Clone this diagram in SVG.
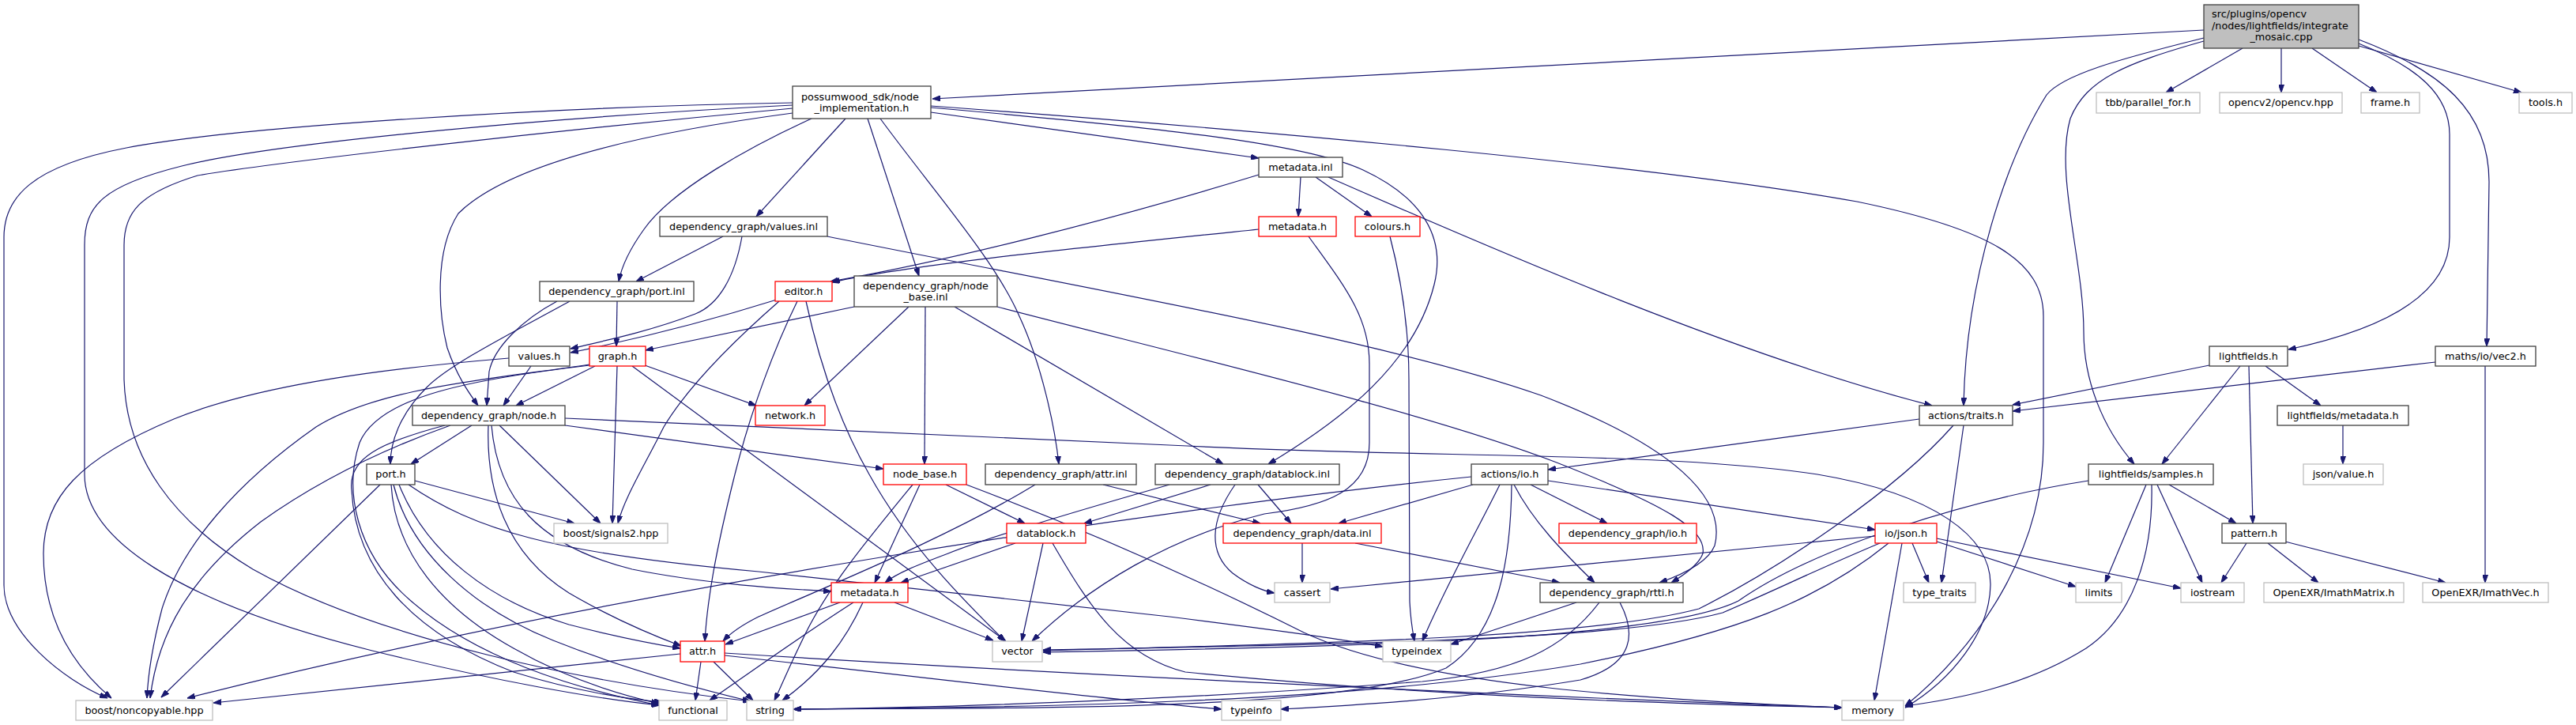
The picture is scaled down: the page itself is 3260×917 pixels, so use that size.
<svg xmlns="http://www.w3.org/2000/svg" width="3260" height="917" viewBox="0 0 3260 917">
<style>
.n rect{fill:#fff;stroke:#404040;stroke-width:1.3}
.n.r rect{stroke:#ff0000}
.n.g rect{stroke:#bfbfbf}
.n.m rect{fill:#bfbfbf}
text{font-family:"DejaVu Sans","Liberation Sans",sans-serif;font-size:12.8px;fill:#000;text-anchor:middle}
text.s{text-anchor:start}
#edges path{fill:none;stroke:#191970;stroke-width:1.2;marker-end:url(#a)}
</style>
<defs>
<marker id="a" viewBox="0 0 10 7" refX="10" refY="3.5" markerWidth="10" markerHeight="7" markerUnits="userSpaceOnUse" orient="auto"><path d="M0,0L10,3.5L0,7z" fill="#191970" stroke="#191970" stroke-width="1"/></marker>
</defs>
<rect width="3260" height="917" fill="#fff"/>
<g id="edges">
<path d="M2789,38 L1180,125"/>
<path d="M2838,61 L2741,117"/>
<path d="M2887,61 L2887,117"/>
<path d="M2926,61 L3008,117"/>
<path d="M2985,58 L3191,117"/>
<path d="M2985,55 C3060,85 3100,120 3100,170 L3100,300 C3100,380 3000,420 2896,442"/>
<path d="M2985,50 C3090,90 3150,140 3150,230 L3147,438"/>
<path d="M2789,48 C2680,75 2610,95 2590,120 C2540,200 2488,350 2485,513"/>
<path d="M2789,52 C2690,80 2640,100 2620,150 C2600,220 2637,330 2637,420 C2637,480 2660,540 2701,587"/>
<path d="M1003,130 C700,135 300,160 160,187 C40,210 5,250 5,300 L5,740 C5,800 80,860 136,883"/>
<path d="M1003,133 C700,148 350,180 230,210 C130,235 107,260 107,310 L107,600 C107,680 220,760 471,823 C620,860 760,885 835,892"/>
<path d="M1003,137 C700,165 350,205 250,222 C175,245 157,270 157,310 L157,480 C160,580 220,660 320,720 C480,810 750,865 950,887"/>
<path d="M1003,143 C800,170 640,210 580,270 C548,320 556,400 566,440 C578,475 592,495 605,513"/>
<path d="M1027,150 C950,185 850,240 815,290 C797,315 787,335 783,356"/>
<path d="M1070,150 L957,274"/>
<path d="M1098,150 L1163,349"/>
<path d="M1114,150 C1180,240 1260,330 1290,400 C1318,460 1335,540 1340,587"/>
<path d="M1178,142 L1593,200"/>
<path d="M1178,134 C1600,165 2100,210 2350,255 C2520,290 2586,330 2586,400 L2586,560 C2586,700 2500,820 2411,893"/>
<path d="M1178,136 C1450,160 1650,180 1725,215 C1800,250 1830,300 1815,360 C1790,460 1700,530 1605,587"/>
<path d="M1593,221 C1400,280 1200,330 1051,356"/>
<path d="M1646,224 L1643,274"/>
<path d="M1665,224 L1736,274"/>
<path d="M1681,224 C1900,320 2200,450 2445,513"/>
<path d="M1593,290 C1350,315 1150,335 1053,357"/>
<path d="M1656,299 C1700,360 1733,400 1733,460 L1733,560 C1733,620 1680,640 1600,650 C1480,680 1380,740 1306,811"/>
<path d="M1759,299 C1775,360 1783,420 1783,480 L1784,760 C1785,785 1788,800 1790,811"/>
<path d="M915,299 L805,356"/>
<path d="M939,299 C930,350 910,385 880,397 C820,420 760,432 722,441"/>
<path d="M1047,299 C1400,370 1750,430 1950,500 C2120,565 2185,630 2170,690 C2160,715 2120,730 2100,737"/>
<path d="M781,381 L780,438"/>
<path d="M705,381 C660,405 625,440 619,470 L616,513"/>
<path d="M721,381 C650,420 570,460 540,490 C505,525 494,560 494,587"/>
<path d="M983,379 C900,405 800,430 722,446"/>
<path d="M986,381 C930,430 870,490 840,540 C815,590 790,630 782,662"/>
<path d="M1009,381 C980,440 950,520 930,600 C905,700 895,760 892,811"/>
<path d="M1020,381 C1035,450 1060,530 1100,600 C1150,690 1220,760 1272,811"/>
<path d="M1081,388 L817,443"/>
<path d="M1150,388 L1018,513"/>
<path d="M1171,388 L1170,587"/>
<path d="M1208,388 L1548,587"/>
<path d="M1262,388 C1500,450 1800,520 1970,585 C2110,640 2160,670 2155,700 C2150,715 2130,728 2115,737"/>
<path d="M672,463 L637,513"/>
<path d="M644,453 C500,465 330,485 220,530 C100,580 55,630 55,700 C55,780 90,840 141,883"/>
<path d="M753,463 L653,513"/>
<path d="M816,462 L957,513"/>
<path d="M781,463 L775,662"/>
<path d="M800,463 L1273,811"/>
<path d="M746,461 C620,480 480,490 400,540 C300,610 230,690 205,770 C192,820 187,860 186,883"/>
<path d="M746,462 C600,480 480,500 455,560 C435,620 450,700 520,760 C600,830 720,870 834,892"/>
<path d="M597,538 L520,587"/>
<path d="M632,538 L760,662"/>
<path d="M715,538 L1118,593"/>
<path d="M715,529 L1480,563 C1800,580 2100,570 2300,600 C2450,625 2520,680 2519,740 C2518,800 2470,860 2411,895"/>
<path d="M570,538 C480,570 400,610 330,660 C240,730 200,800 190,883"/>
<path d="M563,538 C480,560 440,580 445,620 C450,720 520,800 650,850 C730,875 800,885 838,888"/>
<path d="M618,538 C615,620 640,700 720,750 C780,785 830,805 862,817"/>
<path d="M622,538 C630,630 680,690 800,720 C900,740 1000,745 1052,748"/>
<path d="M525,608 L727,662"/>
<path d="M481,613 L204,882"/>
<path d="M495,613 C500,700 560,770 650,820 C720,860 790,880 834,890"/>
<path d="M498,613 C520,700 600,770 700,810 C800,850 900,875 950,887"/>
<path d="M505,613 C540,700 620,760 720,790 C790,808 830,815 861,820"/>
<path d="M517,613 C600,670 700,700 960,723 L1480,780 C1600,795 1700,808 1750,818"/>
<path d="M1155,613 C1100,680 1050,740 1020,800 C1000,840 990,865 980,886"/>
<path d="M1164,613 L1107,737"/>
<path d="M1197,613 L1297,662"/>
<path d="M1223,613 C1400,680 1550,750 1650,800 C1800,870 2100,885 2331,895"/>
<path d="M1310,613 C1200,680 1050,740 960,780 C940,790 925,800 915,811"/>
<path d="M1396,613 L1595,662"/>
<path d="M1480,613 C1350,650 1250,680 1200,700 C1160,715 1135,725 1120,737"/>
<path d="M1532,613 L1372,662"/>
<path d="M1592,613 L1634,662"/>
<path d="M1563,613 C1530,660 1530,700 1560,725 C1580,740 1600,748 1613,750"/>
<path d="M1862,603 C1500,640 800,740 237,883"/>
<path d="M1864,613 L1694,662"/>
<path d="M1898,613 C1870,670 1830,740 1800,811"/>
<path d="M1913,613 C1912,700 1900,800 1830,845 C1700,900 1300,895 1004,897"/>
<path d="M1916,613 C1940,660 1980,700 2018,737"/>
<path d="M1937,613 L2034,662"/>
<path d="M1959,608 L2373,670"/>
<path d="M2429,530 L1959,594"/>
<path d="M2485,538 L2457,737"/>
<path d="M2472,538 C2400,620 2250,720 2150,770 C2000,810 1600,815 1320,823"/>
<path d="M2796,462 L2547,512"/>
<path d="M2835,463 L2736,587"/>
<path d="M2846,463 L2851,662"/>
<path d="M2867,463 L2937,513"/>
<path d="M3082,458 L2547,520"/>
<path d="M3145,463 L3145,737"/>
<path d="M2965,538 L2965,587"/>
<path d="M2643,608 C2500,630 2300,690 2200,760 C2100,810 1700,818 1320,825"/>
<path d="M2716,613 L2664,737"/>
<path d="M2730,613 L2787,737"/>
<path d="M2745,613 L2830,662"/>
<path d="M2723,613 C2725,700 2700,780 2640,820 C2560,870 2470,885 2411,893"/>
<path d="M2843,687 L2811,737"/>
<path d="M2870,687 L2934,737"/>
<path d="M2892,685 L3095,737"/>
<path d="M2373,678 L1684,745"/>
<path d="M2379,687 C2300,720 2250,745 2180,775 C2050,810 1700,815 1320,822"/>
<path d="M2390,687 C2300,760 2200,800 2000,840 C1700,890 1300,895 1004,897"/>
<path d="M2407,687 L2372,886"/>
<path d="M2420,687 L2441,737"/>
<path d="M2451,685 L2627,742"/>
<path d="M2451,681 L2760,744"/>
<path d="M1995,762 L1836,815"/>
<path d="M2024,762 C1980,820 1920,850 1800,862 C1500,885 1200,895 1004,897"/>
<path d="M2050,762 C2070,800 2070,840 2000,860 C1850,885 1700,893 1621,897"/>
<path d="M1648,687 L1648,737"/>
<path d="M1715,687 L1974,737"/>
<path d="M1285,687 L1140,737"/>
<path d="M1320,687 L1293,811"/>
<path d="M1332,687 C1380,770 1420,830 1500,850 C1800,880 2100,890 2331,895"/>
<path d="M1063,762 L918,815"/>
<path d="M1080,762 C1020,800 950,850 898,886"/>
<path d="M1092,762 C1070,810 1040,850 990,886"/>
<path d="M1132,762 L1257,810"/>
<path d="M887,837 L880,886"/>
<path d="M903,837 L953,886"/>
<path d="M861,827 L270,889"/>
<path d="M917,826 C1300,850 1900,880 2331,895"/>
<path d="M917,829 C1200,860 1400,885 1546,897"/>
</g>
<g id="node-main" class="n m"><rect x="2789" y="6" width="196" height="55"/><text class="s" x="2799" y="22">src/plugins/opencv</text><text class="s" x="2799" y="36.5">/nodes/lightfields/integrate</text><text x="2887" y="51">_mosaic.cpp</text></g>
<g id="node-possumwood" class="n"><rect x="1003" y="109" width="175" height="41"/><text class="s" x="1014" y="126.5">possumwood_sdk/node</text><text x="1090.5" y="141">_implementation.h</text></g>
<g id="node-tbb" class="n g"><rect x="2653" y="117" width="131" height="26"/><text x="2718.5" y="134.3">tbb/parallel_for.h</text></g>
<g id="node-opencv" class="n g"><rect x="2809" y="117" width="155" height="26"/><text x="2886.5" y="134.3">opencv2/opencv.hpp</text></g>
<g id="node-frame" class="n g"><rect x="2988" y="117" width="74" height="26"/><text x="3025" y="134.3">frame.h</text></g>
<g id="node-tools" class="n g"><rect x="3188" y="117" width="67" height="26"/><text x="3221.5" y="134.3">tools.h</text></g>
<g id="node-metadata-inl" class="n"><rect x="1593" y="199" width="106" height="25"/><text x="1646" y="215.8">metadata.inl</text></g>
<g id="node-values-inl" class="n"><rect x="835" y="274" width="212" height="25"/><text x="941" y="290.8">dependency_graph/values.inl</text></g>
<g id="node-metadata-h-upper" class="n r"><rect x="1593" y="274" width="98" height="25"/><text x="1642" y="290.8">metadata.h</text></g>
<g id="node-colours" class="n r"><rect x="1715" y="274" width="82" height="25"/><text x="1756" y="290.8">colours.h</text></g>
<g id="node-port-inl" class="n"><rect x="683" y="356" width="195" height="25"/><text x="780.5" y="372.8">dependency_graph/port.inl</text></g>
<g id="node-editor" class="n r"><rect x="981" y="356" width="72" height="25"/><text x="1017" y="372.8">editor.h</text></g>
<g id="node-node-base-inl" class="n"><rect x="1081" y="349" width="181" height="39"/><text class="s" x="1092" y="365.5">dependency_graph/node</text><text x="1171.5" y="380">_base.inl</text></g>
<g id="node-values-h" class="n"><rect x="644" y="438" width="77" height="25"/><text x="682.5" y="454.8">values.h</text></g>
<g id="node-graph-h" class="n r"><rect x="746" y="438" width="71" height="25"/><text x="781.5" y="454.8">graph.h</text></g>
<g id="node-lightfields-h" class="n"><rect x="2796" y="438" width="99" height="25"/><text x="2845.5" y="454.8">lightfields.h</text></g>
<g id="node-vec2" class="n"><rect x="3082" y="438" width="127" height="25"/><text x="3145.5" y="454.8">maths/io/vec2.h</text></g>
<g id="node-node-h" class="n"><rect x="522" y="513" width="193" height="25"/><text x="618.5" y="529.8">dependency_graph/node.h</text></g>
<g id="node-network" class="n r"><rect x="956" y="513" width="88" height="25"/><text x="1000" y="529.8">network.h</text></g>
<g id="node-traits" class="n"><rect x="2429" y="513" width="118" height="25"/><text x="2488" y="529.8">actions/traits.h</text></g>
<g id="node-lf-metadata" class="n"><rect x="2882" y="513" width="166" height="25"/><text x="2965" y="529.8">lightfields/metadata.h</text></g>
<g id="node-port-h" class="n"><rect x="464" y="587" width="61" height="26"/><text x="494.5" y="604.3">port.h</text></g>
<g id="node-node-base-h" class="n r"><rect x="1118" y="587" width="105" height="26"/><text x="1170.5" y="604.3">node_base.h</text></g>
<g id="node-attr-inl" class="n"><rect x="1247" y="587" width="191" height="26"/><text x="1342.5" y="604.3">dependency_graph/attr.inl</text></g>
<g id="node-datablock-inl" class="n"><rect x="1462" y="587" width="233" height="26"/><text x="1578.5" y="604.3">dependency_graph/datablock.inl</text></g>
<g id="node-actions-io" class="n"><rect x="1862" y="587" width="97" height="26"/><text x="1910.5" y="604.3">actions/io.h</text></g>
<g id="node-samples" class="n"><rect x="2643" y="587" width="158" height="26"/><text x="2722" y="604.3">lightfields/samples.h</text></g>
<g id="node-json-value" class="n g"><rect x="2915" y="587" width="101" height="26"/><text x="2965.5" y="604.3">json/value.h</text></g>
<g id="node-signals2" class="n g"><rect x="701" y="662" width="144" height="25"/><text x="773" y="678.8">boost/signals2.hpp</text></g>
<g id="node-datablock-h" class="n r"><rect x="1274" y="662" width="100" height="25"/><text x="1324" y="678.8">datablock.h</text></g>
<g id="node-data-inl" class="n r"><rect x="1548" y="662" width="200" height="25"/><text x="1648" y="678.8">dependency_graph/data.inl</text></g>
<g id="node-dg-io" class="n r"><rect x="1973" y="662" width="174" height="25"/><text x="2060" y="678.8">dependency_graph/io.h</text></g>
<g id="node-io-json" class="n r"><rect x="2373" y="662" width="78" height="25"/><text x="2412" y="678.8">io/json.h</text></g>
<g id="node-pattern" class="n"><rect x="2812" y="662" width="81" height="25"/><text x="2852.5" y="678.8">pattern.h</text></g>
<g id="node-metadata-h-lower" class="n r"><rect x="1052" y="737" width="97" height="25"/><text x="1100.5" y="753.8">metadata.h</text></g>
<g id="node-cassert" class="n g"><rect x="1613" y="737" width="70" height="25"/><text x="1648" y="753.8">cassert</text></g>
<g id="node-rtti" class="n"><rect x="1949" y="737" width="181" height="25"/><text x="2039.5" y="753.8">dependency_graph/rtti.h</text></g>
<g id="node-type-traits" class="n g"><rect x="2409" y="737" width="91" height="25"/><text x="2454.5" y="753.8">type_traits</text></g>
<g id="node-limits" class="n g"><rect x="2627" y="737" width="58" height="25"/><text x="2656" y="753.8">limits</text></g>
<g id="node-iostream" class="n g"><rect x="2760" y="737" width="80" height="25"/><text x="2800" y="753.8">iostream</text></g>
<g id="node-imathmatrix" class="n g"><rect x="2865" y="737" width="177" height="25"/><text x="2953.5" y="753.8">OpenEXR/ImathMatrix.h</text></g>
<g id="node-imathvec" class="n g"><rect x="3066" y="737" width="159" height="25"/><text x="3145.5" y="753.8">OpenEXR/ImathVec.h</text></g>
<g id="node-attr-h" class="n r"><rect x="861" y="811" width="56" height="26"/><text x="889" y="828.3">attr.h</text></g>
<g id="node-vector" class="n g"><rect x="1256" y="811" width="63" height="26"/><text x="1287.5" y="828.3">vector</text></g>
<g id="node-typeindex" class="n g"><rect x="1750" y="811" width="86" height="26"/><text x="1793" y="828.3">typeindex</text></g>
<g id="node-noncopyable" class="n g"><rect x="96" y="886" width="173" height="25"/><text x="182.5" y="902.8">boost/noncopyable.hpp</text></g>
<g id="node-functional" class="n g"><rect x="834" y="886" width="86" height="25"/><text x="877" y="902.8">functional</text></g>
<g id="node-string" class="n g"><rect x="945" y="886" width="59" height="25"/><text x="974.5" y="902.8">string</text></g>
<g id="node-typeinfo" class="n g"><rect x="1546" y="886" width="75" height="25"/><text x="1583.5" y="902.8">typeinfo</text></g>
<g id="node-memory" class="n g"><rect x="2331" y="886" width="78" height="25"/><text x="2370" y="902.8">memory</text></g>
</svg>
